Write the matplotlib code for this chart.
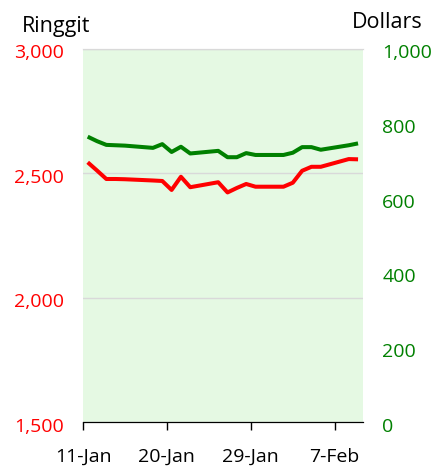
import datetime as dt
import matplotlib
matplotlib.use("Agg")
import matplotlib.pyplot as plt
import matplotlib.dates as mdates
from matplotlib.ticker import FuncFormatter, FixedLocator
from matplotlib.transforms import ScaledTranslation

plt.rcParams['font.family'] = ['Open Sans', 'DejaVu Sans']

# trading days, 11 Jan - 9 Feb
dates = ["2010-01-11", "2010-01-12", "2010-01-13", "2010-01-14", "2010-01-15",
         "2010-01-18", "2010-01-19", "2010-01-20", "2010-01-21", "2010-01-22",
         "2010-01-25", "2010-01-26", "2010-01-27", "2010-01-28", "2010-01-29",
         "2010-02-01", "2010-02-02", "2010-02-03", "2010-02-04", "2010-02-05",
         "2010-02-08", "2010-02-09"]
ringgit = [2543, 2510, 2476, 2476, 2475, 2470, 2468, 2432, 2485, 2443,
           2463, 2422, 2440, 2456, 2445, 2445, 2461, 2509, 2525, 2525,
           2556, 2555]
dollars = [764, 752, 742, 741, 740, 734, 744, 723, 737, 719,
           726, 709, 709, 720, 715, 715, 721, 736, 736, 729,
           741, 746]
tick_dates = ["2010-01-11", "2010-01-20", "2010-01-29", "2010-02-07"]

# Excel date axis puts points mid-day
x = [dt.datetime.strptime(d, "%Y-%m-%d") + dt.timedelta(hours=12) for d in dates]
ticks = [mdates.date2num(dt.datetime.strptime(d, "%Y-%m-%d")) for d in tick_dates]

fig = plt.figure(figsize=(4.37, 4.68), dpi=100)
ax = fig.add_axes([0.190, 0.0983, 0.640, 0.798])
ax.set_facecolor('#e5f9e3')
ax2 = ax.twinx()

ax.plot(x, ringgit, color='#ff0000', lw=2.9, solid_capstyle='butt', zorder=3)
ax2.plot(x, dollars, color='#008000', lw=2.9, solid_capstyle='butt', zorder=3)

ax.set_xlim(mdates.date2num(dt.datetime(2010, 1, 11)), mdates.date2num(dt.datetime(2010, 2, 10)))
ax.xaxis.set_major_locator(FixedLocator(ticks))
ax.xaxis.set_major_formatter(FuncFormatter(
    lambda v, p: f"{mdates.num2date(v).day}-{mdates.num2date(v):%b}"))

ax.set_ylim(1500, 3000)
ax.set_yticks([1500, 2000, 2500, 3000])
ax.yaxis.set_major_formatter(FuncFormatter(lambda v, p: f"{int(v):,}"))
ax2.set_ylim(0, 1000)
ax2.set_yticks([0, 200, 400, 600, 800, 1000])
ax2.yaxis.set_major_formatter(FuncFormatter(lambda v, p: f"{int(v):,}"))

ax.grid(axis='y', color='#d9d9d9', lw=1)
ax.set_axisbelow(True)

for a in (ax, ax2):
    for s in ('left', 'right'):
        a.spines[s].set_visible(False)
    a.spines['top'].set_color('#d9d9d9')
    a.spines['bottom'].set_color('black')

ax.tick_params(axis='y', length=0, pad=14, labelsize=14, labelcolor='#ff0000')
ax2.tick_params(axis='y', length=0, pad=14, labelsize=14, labelcolor='#008000')
ax.tick_params(axis='x', length=5.5, width=1, direction='out', pad=13, labelsize=14)

# nudge y labels down a little, like Excel
shift = ScaledTranslation(0, -2 / 72, fig.dpi_scale_trans)
for lab in ax.get_yticklabels() + ax2.get_yticklabels():
    lab.set_transform(lab.get_transform() + shift)

fig.text(0.05, 0.944, "Ringgit", fontsize=15.5, ha='left', va='center')
fig.text(0.966, 0.952, "Dollars", fontsize=15.5, ha='right', va='center')

fig.savefig("out.png", dpi=100)
